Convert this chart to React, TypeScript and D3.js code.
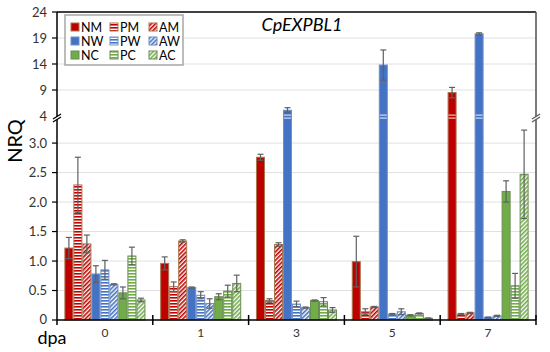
import React from "react";
import * as d3 from "d3";

const categories = ["0", "1", "3", "5", "7"];
const seriesNames = ["NM", "PM", "AM", "NW", "PW", "AW", "NC", "PC", "AC"];

const NM = [1.22, 0.96, 2.76, 0.99, 8.5];
const PM = [2.29, 0.565, 0.33, 0.14, 0.1];
const AM = [1.29, 1.34, 1.28, 0.22, 0.12];
const NW = [0.78, 0.55, 5.1, 13.8, 19.8];
const PW = [0.85, 0.42, 0.27, 0.1, 0.045];
const AW = [0.605, 0.28, 0.21, 0.14, 0.07];
const NC = [0.46, 0.395, 0.33, 0.08, 2.18];
const PC = [1.085, 0.49, 0.31, 0.11, 0.58];
const AC = [0.34, 0.62, 0.17, 0.03, 2.47];

const NMerr = [0.18, 0.11, 0.05, 0.43, 1.0];
const PMerr = [0.47, 0.08, 0.03, 0.05, 0.01];
const AMerr = [0.15, 0.02, 0.03, 0.01, 0.01];
const NWerr = [0.14, 0.01, 0.5, 2.9, 0.2];
const PWerr = [0.16, 0.06, 0.05, 0.01, 0.005];
const AWerr = [0.01, 0.08, 0.01, 0.05, 0.01];
const NCerr = [0.1, 0.05, 0.01, 0.01, 0.18];
const PCerr = [0.15, 0.1, 0.07, 0.01, 0.21];
const ACerr = [0.03, 0.14, 0.04, 0.005, 0.75];

const lowerTicks = [0, 0.5, 1, 1.5, 2, 2.5, 3];
const lowerTickLabels = ["0", "0.5", "1.0", "1.5", "2.0", "2.5", "3.0"];
const upperTicks = [4, 9, 14, 19, 24];
const upperTickLabels = ["4", "9", "14", "19", "24"];

const seriesValues = [NM, PM, AM, NW, PW, AW, NC, PC, AC];
const seriesErrors = [NMerr, PMerr, AMerr, NWerr, PWerr, AWerr, NCerr, PCerr, ACerr];

const baseColors: Record<string, string> = { M: "#c00000", W: "#4472c4", C: "#70ad47" };
const borderColors: Record<string, string> = { M: "#a8764f", W: "#6f8fc4", C: "#6b8c55" };

const FONT = "Lato, 'Open Sans', sans-serif";

export default function App() {
  const W = 550, H = 352;
  const left = 57, right = 536, top = 12, bottom = 320;
  const y = d3.scaleLinear().domain([0, 3.4, 4, 24]).range([bottom, 119.5, 116, top]);
  const x0 = d3.scaleBand<string>().domain(categories).range([left, right]).padding(0);
  const x1 = d3.scaleBand<string>().domain(seriesNames).range([0, x0.bandwidth()]).paddingInner(0).paddingOuter(0.82);
  const bw = x1.bandwidth();

  const fillFor = (s: string) => {
    const kind = s[0];
    const c = s[1];
    if (kind === "N") return baseColors[c];
    return `url(#pat-${s})`;
  };

  const patterns = seriesNames.filter((s) => s[0] !== "N").map((s) => {
    const col = baseColors[s[1]];
    if (s[0] === "P") {
      return (
        <pattern key={s} id={`pat-${s}`} patternUnits="userSpaceOnUse" width={4} height={3}>
          <rect x={0} y={0} width={4} height={3} fill="#fff" />
          <rect x={0} y={0} width={4} height={1.6} fill={col} />
        </pattern>
      );
    }
    return (
      <pattern key={s} id={`pat-${s}`} patternUnits="userSpaceOnUse" width={3} height={3} patternTransform="rotate(45)">
        <rect x={0} y={0} width={3} height={3} fill="#fff" />
        <rect x={0} y={0} width={1.6} height={3} fill={col} />
      </pattern>
    );
  });

  const bars: React.ReactNode[] = [];
  const errs: React.ReactNode[] = [];
  const breaks: React.ReactNode[] = [];
  categories.forEach((cat, ci) => {
    seriesNames.forEach((s, si) => {
      const v = seriesValues[si][ci];
      const e = seriesErrors[si][ci];
      const bx = (x0(cat) as number) + (x1(s) as number);
      const yv = y(v);
      bars.push(
        <rect key={`b-${ci}-${si}`} x={bx + 0.5} y={yv} width={bw - 1} height={bottom - yv}
          fill={fillFor(s)} stroke={borderColors[s[1]]} strokeWidth={1} />
      );
      if (v > 3.4) {
        breaks.push(
          <g key={`br-${ci}-${si}`}>
            <rect x={bx + 1} y={114.5} width={bw - 2} height={1.2} fill="#fff" opacity={0.75} />
            <rect x={bx + 1} y={117.5} width={bw - 2} height={1.2} fill="#fff" opacity={0.75} />
          </g>
        );
      }
      const cx = bx + bw / 2;
      const yt = y(v + e), yb = y(Math.max(0, v - e));
      errs.push(
        <g key={`e-${ci}-${si}`} stroke="#606060" strokeWidth={1.2}>
          <line x1={cx} x2={cx} y1={yt} y2={yb} />
          <line x1={cx - 3} x2={cx + 3} y1={yt} y2={yt} />
          <line x1={cx - 3} x2={cx + 3} y1={yb} y2={yb} />
        </g>
      );
    });
  });

  const gridVals = [...lowerTicks.filter((t) => t > 0), 9, 14, 19];
  const boundaries = d3.range(categories.length + 1).map((i) => left + i * x0.step());

  const legendCols = [71, 110, 149];
  const legendRows = [27, 41, 55];

  return (
    <svg width={W} height={H} style={{ position: "absolute", left: 0, top: 0 }} fontFamily={FONT}>
      <defs>{patterns}</defs>
      <rect x={0} y={0} width={W} height={H} fill="#fff" />
      {gridVals.map((g) => (
        <line key={`g${g}`} x1={left} x2={right} y1={y(g)} y2={y(g)} stroke="#e0e0e0" strokeWidth={1} />
      ))}
      {bars}
      {breaks}
      {errs}
      <line x1={left} x2={right} y1={top} y2={top} stroke="#000" strokeWidth={1.3} />
      <line x1={right} x2={right} y1={top} y2={bottom} stroke="#595959" strokeWidth={1.6} />
      <line x1={left} x2={left} y1={top} y2={bottom} stroke="#000" strokeWidth={1.5} />
      <line x1={left} x2={right} y1={bottom} y2={bottom} stroke="#000" strokeWidth={1.5} />
      {boundaries.map((bx, i) => (
        <line key={`t${i}`} x1={bx} x2={bx} y1={i === 0 ? bottom : bottom - 5} y2={bottom + 5} stroke="#000" strokeWidth={1.5} />
      ))}
      {[left, right].map((ax) => (
        <g key={`ab${ax}`}>
          <polygon points={`${ax - 4},${119} ${ax + 4},${114} ${ax + 4},${117} ${ax - 4},${122}`} fill="#fff" />
          <line x1={ax - 4} x2={ax + 4} y1={119} y2={114} stroke={ax === left ? "#000" : "#595959"} strokeWidth={1.3} />
          <line x1={ax - 4} x2={ax + 4} y1={122} y2={117} stroke={ax === left ? "#000" : "#595959"} strokeWidth={1.3} />
        </g>
      ))}
      {[...lowerTicks.map((t, i) => ({ t, l: lowerTickLabels[i] })), ...upperTicks.map((t, i) => ({ t, l: upperTickLabels[i] }))].map(({ t, l }) => (
        <g key={`yt${t}`}>
          {t !== 4 && <line x1={left - 5} x2={left} y1={y(t)} y2={y(t)} stroke="#000" strokeWidth={1.2} />}
          <text x={47} y={t === 0 ? y(t) - 1 : y(t)} dy="0.35em" textAnchor="end" fontSize={13} fill="#333">{l}</text>
        </g>
      ))}
      {categories.map((c) => (
        <text key={`c${c}`} x={(x0(c) as number) + x0.bandwidth() / 2} y={337} textAnchor="middle" fontSize={12} fill="#333">{c}</text>
      ))}
      <text x={52} y={344} textAnchor="middle" fontSize={18} fill="#000">dpa</text>
      <text transform="translate(22,141) rotate(-90)" textAnchor="middle" fontSize={20} fill="#000">NRQ</text>
      <text x={302} y={31} textAnchor="middle" fontSize={18} fontStyle="italic" fill="#000">CpEXPBL1</text>
      <rect x={65} y={15} width={118} height={50} fill="#fff" stroke="#a6a6a6" strokeWidth={1.5} />
      {seriesNames.map((s, i) => {
        const col = i % 3;
        const row = Math.floor(i / 3);
        const lx = legendCols[col];
        const ly = legendRows[row];
        return (
          <g key={`l${s}`}>
            <rect x={lx} y={ly - 4} width={8} height={8} fill={fillFor(s)} stroke={borderColors[s[1]]} strokeWidth={1} />
            <text x={lx + 10} y={ly} dy="0.36em" fontSize={12.5} fill="#000">{s}</text>
          </g>
        );
      })}
    </svg>
  );
}
